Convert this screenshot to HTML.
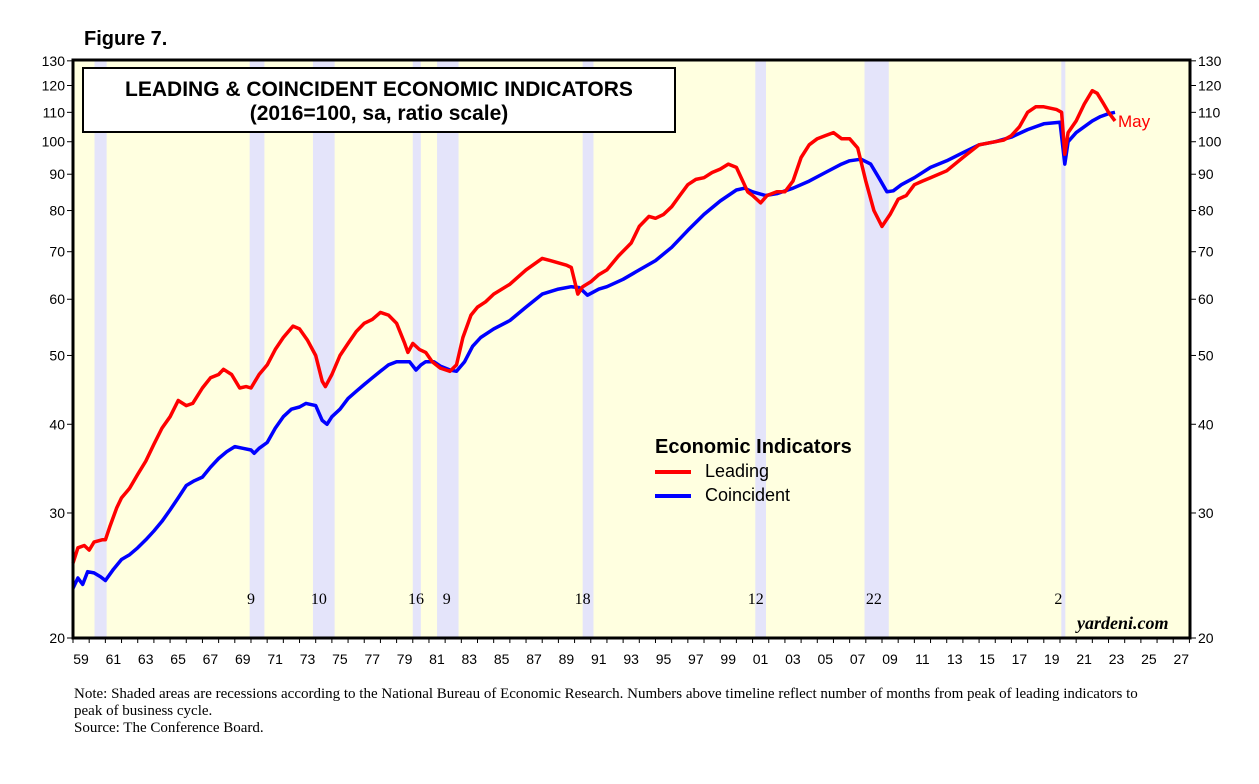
<!DOCTYPE html>
<html><head><meta charset="utf-8"><style>
body{margin:0;background:#fff;width:1259px;height:779px;overflow:hidden;font-family:"Liberation Sans",sans-serif}
</style></head><body>
<svg id="c" width="1259" height="779" xmlns="http://www.w3.org/2000/svg"></svg>
<script>
const recessions=[[1960.33,1961.08],[1969.92,1970.83],[1973.83,1975.17],[1980.0,1980.5],[1981.5,1982.83],[1990.5,1991.17],[2001.17,2001.83],[2007.92,2009.42],[2020.08,2020.33]];
const leadNums=[[1970,"9"],[1974.2,"10"],[1980.2,"16"],[1982.1,"9"],[1990.5,"18"],[2001.2,"12"],[2008.5,"22"],[2019.9,"2"]];
const leadYears=[1959.0,1959.3,1959.7,1960.0,1960.3,1960.8,1961.0,1961.3,1961.7,1962,1962.5,1963,1963.5,1964,1964.5,1965,1965.5,1966,1966.4,1967,1967.5,1968,1968.3,1968.8,1969.3,1969.7,1970,1970.5,1971,1971.5,1972,1972.6,1973,1973.5,1974,1974.4,1974.6,1975,1975.5,1976,1976.5,1977,1977.5,1978,1978.5,1979,1979.5,1979.7,1980.0,1980.4,1980.8,1981.2,1981.7,1982.3,1982.7,1983.1,1983.6,1984,1984.5,1985,1986,1987,1988,1988.5,1989.5,1989.8,1990.2,1990.5,1991,1991.5,1992,1992.7,1993.5,1994,1994.6,1995,1995.5,1996,1996.5,1997,1997.5,1998,1998.5,1999,1999.5,2000,2000.3,2000.7,2001,2001.5,2001.9,2002.5,2003,2003.5,2004,2004.5,2005,2005.5,2006,2006.5,2007,2007.5,2008,2008.5,2009,2009.5,2010,2010.5,2011,2011.5,2012,2013,2014,2015,2016,2016.5,2017,2017.5,2018,2018.5,2019,2019.8,2020.1,2020.3,2020.5,2021,2021.5,2022,2022.3,2022.7,2023,2023.4];
const leadVals=[25.5,26.8,27.0,26.6,27.3,27.5,27.5,28.8,30.5,31.5,32.5,34,35.5,37.5,39.5,41,43.2,42.5,42.8,45,46.5,47,47.8,47,45,45.2,45,47,48.5,51,53,55,54.5,52.5,50,46,45.2,47,50,52,54,55.5,56.2,57.5,57,55.5,52,50.5,52,51,50.5,49,48,47.5,48.5,53,57,58.5,59.5,61,63,66,68.5,68,67,66.5,61,62.5,63.5,65,66,69,72,76,78.5,78,79,81,84,87,88.5,89,90.5,91.5,93,92,89,85,84,82,84,85,85,88,95,99,101,102,103,101,101,98,88,80,76,79,83,84,87,88,89,91,95,99,100,100.5,102,105,110,112,112,111,110,96,103,107,113,118,117,113,110,107];
const coinYears=[1959.0,1959.3,1959.6,1959.9,1960.3,1960.7,1961.0,1961.5,1962,1962.5,1963,1963.5,1964,1964.5,1965,1965.5,1966,1966.5,1967,1967.5,1968,1968.5,1969,1969.5,1970,1970.2,1970.5,1971,1971.5,1972,1972.5,1973,1973.4,1974,1974.4,1974.7,1975,1975.5,1976,1976.5,1977,1977.5,1978,1978.5,1979,1979.5,1979.8,1980.2,1980.5,1980.8,1981.3,1981.7,1982.3,1982.7,1983.2,1983.7,1984.2,1985,1986,1987,1988,1989,1989.8,1990.3,1990.8,1991.5,1992,1993,1994,1995,1996,1997,1998,1999,2000,2000.5,2001,2001.8,2002.5,2003.5,2004.5,2005.5,2006.5,2007,2007.7,2008.3,2008.8,2009.3,2009.7,2010.2,2011,2012,2013,2014,2015,2016,2017,2018,2019,2020.0,2020.3,2020.5,2021,2022,2022.5,2023,2023.4];
const coinVals=[23.5,24.3,23.8,24.8,24.7,24.4,24.1,25,25.8,26.2,26.8,27.5,28.3,29.2,30.3,31.5,32.8,33.3,33.7,34.8,35.8,36.6,37.2,37.0,36.8,36.4,37,37.7,39.5,41,42,42.3,42.8,42.5,40.5,40,41,42,43.5,44.5,45.5,46.5,47.5,48.5,49,49,49,47.7,48.5,49,49,48.3,47.7,47.5,49,51.5,53,54.5,56,58.5,61,62,62.5,62.3,60.8,62,62.5,64,66,68,71,75,79,82.5,85.5,86,85,84,84.5,86,88,90.5,93,94,94.5,93,89,85,85.3,87,89,92,94,96.5,99,100,101.5,104,106,106.5,93,100,103,107,108.5,109.5,110];
const yTicks=[20,30,40,50,60,70,80,90,100,110,120,130];
const xLabels=["59","61","63","65","67","69","71","73","75","77","79","81","83","85","87","89","91","93","95","97","99","01","03","05","07","09","11","13","15","17","19","21","23","25","27"];

const L=73,R=1190,T=60,B=638;
const xs=y=>L+(y-1959)*16.18;
const ys=v=>638-710*Math.log10(v/20);
const svg=document.getElementById('c');
const NS='http://www.w3.org/2000/svg';
function mk(tag,attrs,parent){const e=document.createElementNS(NS,tag);for(const k in attrs)e.setAttribute(k,attrs[k]);(parent||svg).appendChild(e);return e;}

let bg=mk('rect',{x:L,y:T,width:R-L,height:B-T,fill:'#ffffe0'});


recessions.forEach(r=>{
  const e=mk('rect',{x:xs(r[0]),y:T,width:xs(r[1])-xs(r[0]),height:B-T,fill:'#e4e4fa'});
  
  
});
leadNums.forEach(n=>{
  const t=mk('text',{x:xs(n[0]),y:604,'text-anchor':'middle','font-family':'Liberation Serif, serif','font-size':16});
  t.textContent=n[1];
  
  
});
function line(xa,va,color,name){
  const d=xa.map((x,i)=>(i?'L':'M')+xs(x).toFixed(1)+','+ys(va[i]).toFixed(1)).join('');
  const p=mk('path',{d:d,fill:'none',stroke:color,'stroke-width':3.5,'stroke-linejoin':'round'});
  
  
}
line(coinYears,coinVals,'#0000ff','coincident-line');
line(leadYears,leadVals,'#ff0000','leading-line');
const frame=mk('rect',{x:L,y:T,width:R-L,height:B-T,fill:'none',stroke:'#000','stroke-width':3});


yTicks.forEach(v=>{
  const y=ys(v);
  mk('line',{x1:L-6,x2:L,y1:y,y2:y,stroke:'#000','stroke-width':1});
  mk('line',{x1:R,x2:R+6,y1:y,y2:y,stroke:'#000','stroke-width':1});
  const a=mk('text',{x:L-8,y:y+5,'text-anchor':'end','font-size':14});
  a.textContent=v;
  
  
  const b=mk('text',{x:R+8,y:y+5,'font-size':14});
  b.textContent=v;
  
  
});
for(let yr=1959;yr<=2028;yr++){mk('line',{x1:xs(yr),x2:xs(yr),y1:B,y2:B+5,stroke:'#000','stroke-width':1});}
xLabels.forEach((s,i)=>{
  const t=mk('text',{x:xs(1959+2*i)+8,y:664,'text-anchor':'middle','font-size':14});
  t.textContent=s;
  
  
});
</script>
<div style="position:absolute;left:84px;top:28px;font-weight:bold;font-size:20px">Figure 7.</div>
<div style="position:absolute;left:82px;top:67px;width:594px;height:66px;border:2px solid #000;background:#fff;text-align:center;font-weight:bold;font-size:21px;line-height:24px;padding-top:9px;box-sizing:border-box">LEADING &amp; COINCIDENT ECONOMIC INDICATORS<br>(2016=100, sa, ratio scale)</div>
<div style="position:absolute;left:655px;top:436px;font-size:18px">
<div style="font-weight:bold;font-size:20px;margin-bottom:2px">Economic Indicators</div>
<div style="height:24px"><span style="display:inline-block;width:36px;height:4px;background:#f00;vertical-align:middle;margin-right:14px"></span>Leading</div>
<div style="height:24px"><span style="display:inline-block;width:36px;height:4px;background:#00f;vertical-align:middle;margin-right:14px"></span>Coincident</div>
</div>
<div style="position:absolute;left:1118px;top:112px;color:#f00;font-size:17px">May</div>
<div style="position:absolute;left:1077px;top:613px;font-family:'Liberation Serif',serif;font-style:italic;font-weight:bold;font-size:18px">yardeni.com</div>
<div style="position:absolute;left:74px;top:686px;font-family:'Liberation Serif',serif;font-size:15px;line-height:17px;width:1095px">Note: Shaded areas are recessions according to the National Bureau of Economic Research. Numbers above timeline reflect number of months from peak of leading indicators to peak of business cycle.<br>Source: The Conference Board.</div>
</body></html>
